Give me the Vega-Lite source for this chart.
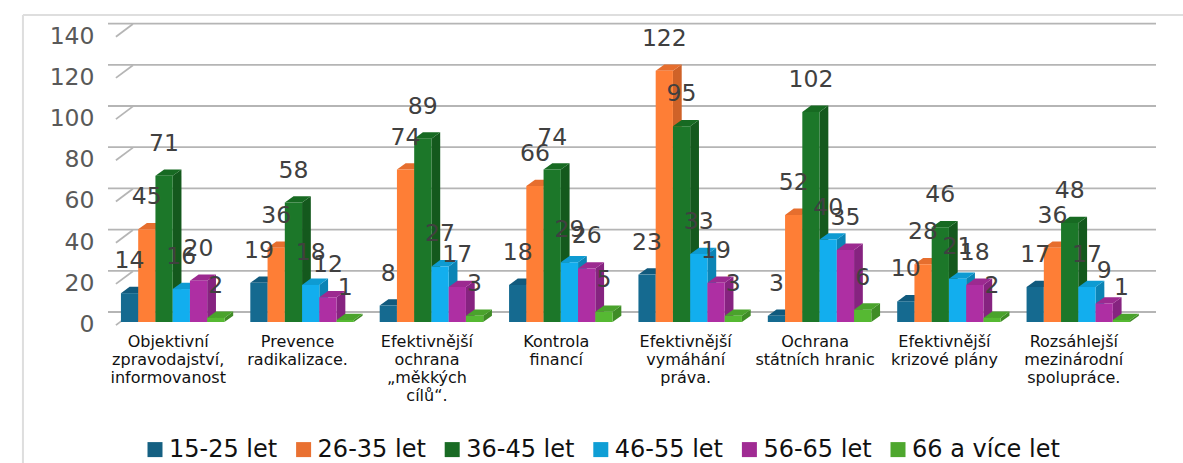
{"$schema":"https://vega.github.io/schema/vega-lite/v6.json","width":1035,"height":288.4,"autosize":{"type":"none"},"padding":{"left":108,"top":33.6,"right":40,"bottom":141},"background":"white","config":{"view":{"stroke":null},"font":"DejaVu Sans"},
"datasets":{"ticks":[{"t":0,"c":"Objektivní|zpravodajství,|informovanost"},{"t":20,"c":"Objektivní|zpravodajství,|informovanost"},{"t":40,"c":"Objektivní|zpravodajství,|informovanost"},{"t":60,"c":"Objektivní|zpravodajství,|informovanost"},{"t":80,"c":"Objektivní|zpravodajství,|informovanost"},{"t":100,"c":"Objektivní|zpravodajství,|informovanost"},{"t":120,"c":"Objektivní|zpravodajství,|informovanost"},{"t":140,"c":"Objektivní|zpravodajství,|informovanost"}],
"bars":[
{"c":"Objektivní|zpravodajství,|informovanost","s":"15-25 let","v":14},{"c":"Objektivní|zpravodajství,|informovanost","s":"26-35 let","v":45},{"c":"Objektivní|zpravodajství,|informovanost","s":"36-45 let","v":71},{"c":"Objektivní|zpravodajství,|informovanost","s":"46-55 let","v":16},{"c":"Objektivní|zpravodajství,|informovanost","s":"56-65 let","v":20},{"c":"Objektivní|zpravodajství,|informovanost","s":"66 a více let","v":2},
{"c":"Prevence|radikalizace.","s":"15-25 let","v":19},{"c":"Prevence|radikalizace.","s":"26-35 let","v":36},{"c":"Prevence|radikalizace.","s":"36-45 let","v":58},{"c":"Prevence|radikalizace.","s":"46-55 let","v":18},{"c":"Prevence|radikalizace.","s":"56-65 let","v":12},{"c":"Prevence|radikalizace.","s":"66 a více let","v":1},
{"c":"Efektivnější|ochrana|„měkkých|cílů“.","s":"15-25 let","v":8},{"c":"Efektivnější|ochrana|„měkkých|cílů“.","s":"26-35 let","v":74},{"c":"Efektivnější|ochrana|„měkkých|cílů“.","s":"36-45 let","v":89},{"c":"Efektivnější|ochrana|„měkkých|cílů“.","s":"46-55 let","v":27},{"c":"Efektivnější|ochrana|„měkkých|cílů“.","s":"56-65 let","v":17},{"c":"Efektivnější|ochrana|„měkkých|cílů“.","s":"66 a více let","v":3},
{"c":"Kontrola|financí","s":"15-25 let","v":18},{"c":"Kontrola|financí","s":"26-35 let","v":66},{"c":"Kontrola|financí","s":"36-45 let","v":74},{"c":"Kontrola|financí","s":"46-55 let","v":29},{"c":"Kontrola|financí","s":"56-65 let","v":26},{"c":"Kontrola|financí","s":"66 a více let","v":5},
{"c":"Efektivnější|vymáhání|práva.","s":"15-25 let","v":23},{"c":"Efektivnější|vymáhání|práva.","s":"26-35 let","v":122},{"c":"Efektivnější|vymáhání|práva.","s":"36-45 let","v":95},{"c":"Efektivnější|vymáhání|práva.","s":"46-55 let","v":33},{"c":"Efektivnější|vymáhání|práva.","s":"56-65 let","v":19},{"c":"Efektivnější|vymáhání|práva.","s":"66 a více let","v":3},
{"c":"Ochrana|státních hranic","s":"15-25 let","v":3},{"c":"Ochrana|státních hranic","s":"26-35 let","v":52},{"c":"Ochrana|státních hranic","s":"36-45 let","v":102},{"c":"Ochrana|státních hranic","s":"46-55 let","v":40},{"c":"Ochrana|státních hranic","s":"56-65 let","v":35},{"c":"Ochrana|státních hranic","s":"66 a více let","v":6},
{"c":"Efektivnější|krizové plány","s":"15-25 let","v":10},{"c":"Efektivnější|krizové plány","s":"26-35 let","v":28},{"c":"Efektivnější|krizové plány","s":"36-45 let","v":46},{"c":"Efektivnější|krizové plány","s":"46-55 let","v":21},{"c":"Efektivnější|krizové plány","s":"56-65 let","v":18},{"c":"Efektivnější|krizové plány","s":"66 a více let","v":2},
{"c":"Rozsáhlejší|mezinárodní|spolupráce.","s":"15-25 let","v":17},{"c":"Rozsáhlejší|mezinárodní|spolupráce.","s":"26-35 let","v":36},{"c":"Rozsáhlejší|mezinárodní|spolupráce.","s":"36-45 let","v":48},{"c":"Rozsáhlejší|mezinárodní|spolupráce.","s":"46-55 let","v":17},{"c":"Rozsáhlejší|mezinárodní|spolupráce.","s":"56-65 let","v":9},{"c":"Rozsáhlejší|mezinárodní|spolupráce.","s":"66 a více let","v":1}
]},
"resolve":{"scale":{"color":"independent"}},
"encoding":{
"x":{"field":"c","type":"nominal","sort":null,"scale":{"paddingInner":0.2,"paddingOuter":0.1},"axis":{"title":null,"domain":false,"ticks":false,"labelAngle":0,"labelExpr":"split(datum.label,'|')","labelFontSize":16,"labelColor":"#111111","labelLineHeight":18,"labelPadding":11,"labelOffset":-4.5,"labelLimit":0,"labelBaseline":"top"}}
},
"layer":[
{"data":{"name":"ticks"},"transform":[{"filter":{"field":"t","equal":0}}],"mark":{"type":"point","shape":"M-98 -307H1100M-98 -307V150","size":4,"filled":false,"stroke":"#dedede","strokeWidth":2,"opacity":1},"encoding":{"x":{"field":"c","type":"nominal","sort":null,"bandPosition":0},"y":{"field":"t","type":"quantitative","scale":{"domain":[0,140]},"axis":{"title":null,"domain":false,"ticks":false,"grid":false,"values":[0,20,40,60,80,100,120,140],"labelFontSize":23.5,"labelColor":"#595959","labelPadding":14,"labelOffset":2.5}}}},
{"data":{"name":"ticks"},"mark":{"type":"rule","stroke":"#b5b5b5","strokeWidth":1.8,"xOffset":13,"yOffset":-10},"encoding":{"x":null,"y":{"field":"t","type":"quantitative"}}},
{"data":{"name":"ticks"},"mark":{"type":"point","shape":"M-5 3.1L12 -9.6","size":4,"filled":false,"stroke":"#b5b5b5","strokeWidth":1.8,"opacity":1},"encoding":{"x":{"field":"c","type":"nominal","sort":null,"bandPosition":0},"y":{"field":"t","type":"quantitative"}}},
{"data":{"name":"bars"},"mark":{"type":"point","size":4,"filled":true,"strokeWidth":0,"opacity":1},"encoding":{"xOffset":{"field":"s","type":"nominal","sort":null},"y":{"datum":0,"type":"quantitative"},"shape":{"field":"v","type":"nominal","legend":null,"scale":{"domain":[1,2,3,5,6,8,9,10,12,14,16,17,18,19,20,21,23,26,27,28,29,33,35,36,40,45,46,48,52,58,66,71,74,89,95,102,122],"range":["M8.62 0L8.62 -2.06L17.4 -8.36L17.4 -6.3Z","M8.62 0L8.62 -4.12L17.4 -10.42L17.4 -6.3Z","M8.62 0L8.62 -6.18L17.4 -12.48L17.4 -6.3Z","M8.62 0L8.62 -10.3L17.4 -16.6L17.4 -6.3Z","M8.62 0L8.62 -12.36L17.4 -18.66L17.4 -6.3Z","M8.62 0L8.62 -16.48L17.4 -22.78L17.4 -6.3Z","M8.62 0L8.62 -18.54L17.4 -24.84L17.4 -6.3Z","M8.62 0L8.62 -20.6L17.4 -26.9L17.4 -6.3Z","M8.62 0L8.62 -24.72L17.4 -31.02L17.4 -6.3Z","M8.62 0L8.62 -28.84L17.4 -35.14L17.4 -6.3Z","M8.62 0L8.62 -32.96L17.4 -39.26L17.4 -6.3Z","M8.62 0L8.62 -35.02L17.4 -41.32L17.4 -6.3Z","M8.62 0L8.62 -37.08L17.4 -43.38L17.4 -6.3Z","M8.62 0L8.62 -39.14L17.4 -45.44L17.4 -6.3Z","M8.62 0L8.62 -41.2L17.4 -47.5L17.4 -6.3Z","M8.62 0L8.62 -43.26L17.4 -49.56L17.4 -6.3Z","M8.62 0L8.62 -47.38L17.4 -53.68L17.4 -6.3Z","M8.62 0L8.62 -53.56L17.4 -59.86L17.4 -6.3Z","M8.62 0L8.62 -55.62L17.4 -61.92L17.4 -6.3Z","M8.62 0L8.62 -57.68L17.4 -63.98L17.4 -6.3Z","M8.62 0L8.62 -59.74L17.4 -66.04L17.4 -6.3Z","M8.62 0L8.62 -67.98L17.4 -74.28L17.4 -6.3Z","M8.62 0L8.62 -72.1L17.4 -78.4L17.4 -6.3Z","M8.62 0L8.62 -74.16L17.4 -80.46L17.4 -6.3Z","M8.62 0L8.62 -82.4L17.4 -88.7L17.4 -6.3Z","M8.62 0L8.62 -92.7L17.4 -99L17.4 -6.3Z","M8.62 0L8.62 -94.76L17.4 -101.06L17.4 -6.3Z","M8.62 0L8.62 -98.88L17.4 -105.18L17.4 -6.3Z","M8.62 0L8.62 -107.12L17.4 -113.42L17.4 -6.3Z","M8.62 0L8.62 -119.48L17.4 -125.78L17.4 -6.3Z","M8.62 0L8.62 -135.96L17.4 -142.26L17.4 -6.3Z","M8.62 0L8.62 -146.26L17.4 -152.56L17.4 -6.3Z","M8.62 0L8.62 -152.44L17.4 -158.74L17.4 -6.3Z","M8.62 0L8.62 -183.34L17.4 -189.64L17.4 -6.3Z","M8.62 0L8.62 -195.7L17.4 -202L17.4 -6.3Z","M8.62 0L8.62 -210.12L17.4 -216.42L17.4 -6.3Z","M8.62 0L8.62 -251.32L17.4 -257.62L17.4 -6.3Z"]}},"color":{"field":"s","type":"nominal","legend":null,"scale":{"domain":["15-25 let","26-35 let","36-45 let","46-55 let","56-65 let","66 a více let"],"range":["#0f4c6a","#cf6228","#14591d","#0b84b5","#862380","#3f8c26"]}}}},
{"data":{"name":"bars"},"mark":{"type":"point","shape":"M-8.62 0L8.62 0L17.4 -6.3L0.08 -6.3Z","size":4,"filled":true,"strokeWidth":0,"opacity":1},"encoding":{"xOffset":{"field":"s","type":"nominal","sort":null},"y":{"field":"v","type":"quantitative"},"color":{"field":"s","type":"nominal","legend":null,"scale":{"domain":["15-25 let","26-35 let","36-45 let","46-55 let","56-65 let","66 a více let"],"range":["#115a7d","#e66e2e","#176a22","#0e9bd2","#9c2a90","#4aa32c"]}}}},
{"data":{"name":"bars"},"mark":{"type":"square","size":4,"opacity":1,"strokeWidth":0},"encoding":{"xOffset":{"field":"s","type":"nominal","sort":null},"y":{"datum":2,"type":"quantitative"},"color":{"field":"s","type":"nominal","scale":{"domain":["15-25 let","26-35 let","36-45 let","46-55 let","56-65 let","66 a více let"],"range":["#156082","#E97132","#196B24","#0F9ED5","#A02B93","#4EA72E"]},"legend":{"title":null,"orient":"none","legendX":35,"legendY":404,"direction":"horizontal","columns":6,"symbolType":"square","symbolSize":225,"symbolOpacity":1,"symbolStrokeWidth":0,"labelFontSize":24,"labelColor":"#111111","labelOffset":2,"columnPadding":13.6,"labelLimit":0,"padding":0}}}},
{"data":{"name":"bars"},"mark":{"type":"bar","strokeWidth":0},"encoding":{"xOffset":{"field":"s","type":"nominal","sort":null,"scale":{"paddingInner":0,"paddingOuter":0}},"y":{"field":"v","type":"quantitative"},"color":{"field":"s","type":"nominal","legend":null,"scale":{"domain":["15-25 let","26-35 let","36-45 let","46-55 let","56-65 let","66 a více let"],"range":["#156a90","#fe7e36","#1c7729","#12aeee","#ae2fa3","#56b933"]}}}},
{"data":{"name":"bars"},"mark":{"type":"text","fontSize":23.5,"color":"#404040","dy":-25,"baseline":"alphabetic","align":"center"},"encoding":{"xOffset":{"field":"s","type":"nominal","sort":null},"y":{"field":"v","type":"quantitative"},"text":{"field":"v","type":"quantitative"}}}
]}
